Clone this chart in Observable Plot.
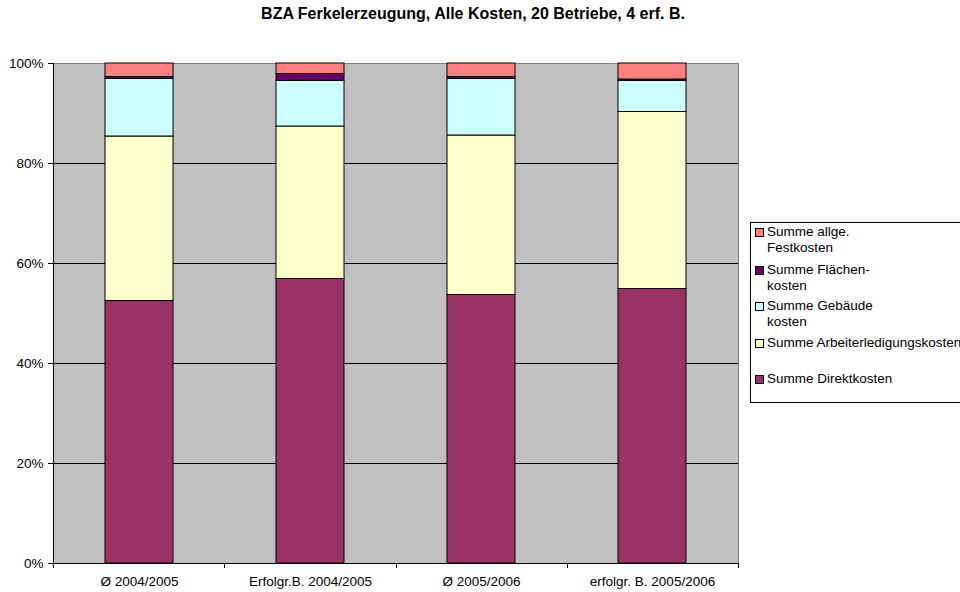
<!DOCTYPE html>
<html><head><meta charset="utf-8">
<script src="https://cdn.jsdelivr.net/npm/d3@7"></script>
<script src="https://cdn.jsdelivr.net/npm/@observablehq/plot@0.6"></script>
<style>
html,body{margin:0;padding:0;background:#fff;overflow:hidden}
#wrap{position:relative;width:960px;height:592px;overflow:hidden;font-family:"Liberation Sans",Arial,sans-serif;color:#000}
#title{position:absolute;left:0;top:6px;width:946px;text-align:center;font-weight:bold;font-size:16px;line-height:16px}
#legend{position:absolute;left:750px;top:222px;width:240px;height:181px;border:1px solid #000;background:#fff;box-sizing:border-box}
.item{position:absolute;left:0;font-size:13.5px;line-height:16px;white-space:pre}
.sw{position:absolute;left:4px;top:4px;width:7px;height:7px;border:1px solid #000}
.lab{position:absolute;left:16px;top:0}
#chart{position:absolute;left:0;top:0}
</style></head><body><div id="wrap"><div id="chart"></div><div id="title"></div><div id="legend"></div></div>
<script>
const categories = ["Ø 2004/2005", "Erfolgr.B. 2004/2005", "Ø 2005/2006", "erfolgr. B. 2005/2006"];
const seriesNames = ["Summe Direktkosten", "Summe Arbeiterledigungskosten", "Summe Gebäude kosten", "Summe Flächen- kosten", "Summe allge. Festkosten"];
const seriesColors = ["#993366", "#FFFFCC", "#CCFFFF", "#660066", "#FF8080"];
const direktkosten   = [52.5, 56.9, 53.7, 54.9];
const arbeitskosten  = [32.9, 30.5, 31.9, 35.4];
const gebaeudekosten = [11.5, 9.1, 11.3, 6.2];
const flaechenkosten = [0.4, 1.4, 0.4, 0.3];
const festkosten     = [2.7, 2.1, 2.7, 3.2];
const legendLabels = ["Summe allge.\nFestkosten", "Summe Flächen-\nkosten", "Summe Gebäude\nkosten", "Summe Arbeiterledigungskosten", "Summe Direktkosten"];
const legendSeries = [4, 3, 2, 1, 0];
const yTicks = [0, 0.2, 0.4, 0.6, 0.8, 1];
const gridTicks = [0.2, 0.4, 0.6, 0.8];
const titleText = "BZA Ferkelerzeugung, Alle Kosten, 20 Betriebe, 4 erf. B.";

const seriesValues = [direktkosten, arbeitskosten, gebaeudekosten, flaechenkosten, festkosten];
const rows = [];
categories.forEach((cat, i) => {
  seriesNames.forEach((s, j) => rows.push({cat, series: s, value: seriesValues[j][i]}));
});

const font = '"Liberation Sans", Arial, sans-serif';

function boundaryTicks(index, scales, values, dims) {
  const g = d3.create("svg:g");
  const left = dims.marginLeft, right = dims.width - dims.marginRight;
  const bottom = dims.height - dims.marginBottom, top = dims.marginTop;
  const n = categories.length, step = (right - left) / n;
  g.append("line").attr("x1", left + 0.5).attr("x2", left + 0.5).attr("y1", top).attr("y2", bottom + 0.5).attr("stroke", "#000");
  g.append("line").attr("x1", left).attr("x2", right).attr("y1", bottom + 0.5).attr("y2", bottom + 0.5).attr("stroke", "#000");
  for (let i = 0; i <= n; i++) {
    const x = Math.round(left + i * step) + 0.5;
    g.append("line").attr("x1", x).attr("x2", x).attr("y1", bottom).attr("y2", bottom + 5).attr("stroke", "#000");
  }
  return g.node();
}

const chart = Plot.plot({
  width: 960, height: 592,
  marginLeft: 53, marginRight: 222, marginTop: 63, marginBottom: 29,
  style: {background: "white", fontFamily: font, fontSize: "13.5px", color: "#000"},
  x: {domain: categories, paddingInner: 0.6, paddingOuter: 0.3, label: null},
  y: {domain: [0, 1], label: null},
  color: {domain: seriesNames, range: seriesColors},
  marks: [
    Plot.frame({fill: "#C0C0C0", stroke: "#808080"}),
    Plot.gridY(gridTicks, {stroke: "#000", strokeOpacity: 1}),
    Plot.barY(rows, Plot.stackY({x: "cat", y: "value", fill: "series", stroke: "#000", strokeWidth: 1, order: seriesNames, offset: "normalize"})),
    boundaryTicks,
    Plot.axisY({ticks: yTicks, tickFormat: d3.format(".0%"), tickSize: 5, tickPadding: 5, fontSize: 13.5}),
    Plot.axisX({tickSize: 0, tickPadding: 13, fontSize: 13.5})
  ]
});
document.getElementById("chart").appendChild(chart);
document.getElementById("title").textContent = titleText;

const legend = document.getElementById("legend");
const firstCenters = [232, 269.5, 306, 342.5, 378.5];
legendSeries.forEach((si, k) => {
  const item = document.createElement("div");
  item.className = "item";
  item.style.top = (firstCenters[k] - 222 - 1 - 8) + "px";
  const sw = document.createElement("div");
  sw.className = "sw";
  sw.style.background = seriesColors[si];
  const lab = document.createElement("div");
  lab.className = "lab";
  lab.textContent = legendLabels[k];
  item.appendChild(sw); item.appendChild(lab);
  legend.appendChild(item);
});
</script></body></html>
